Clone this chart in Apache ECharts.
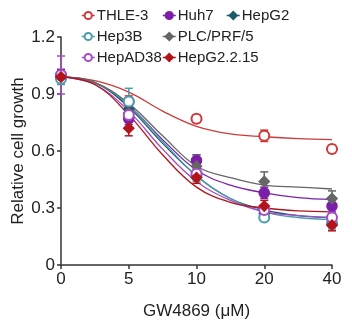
<!DOCTYPE html>
<html><head><meta charset="utf-8">
<script src="https://cdn.jsdelivr.net/npm/echarts@6/dist/echarts.min.js"></script>
<style>html,body{margin:0;padding:0;background:#fff}#c{width:352px;height:327px}</style>
</head><body><div id="c"></div>
<script>
const xLabels = ['0','5','10','20','40'];
const xPos = [0,1,2,3,4];
const fitX = [0,0.5,1,1.5,2,2.5,3,3.5,4];
const names = ['THLE-3','Huh7','HepG2','Hep3B','PLC/PRF/5','HepAD38','HepG2.2.15'];
const colors = ['#d0393a','#7b1fa8','#1d5b66','#4a9cae','#666666','#a64cc8','#b3141b'];
const symbols = ['emptyCircle','circle','diamond','emptyCircle','diamond','emptyCircle','diamond'];
const means = {
 'THLE-3':[0.99,0.86,0.77,0.68,0.61],
 'Huh7':[1.0,0.77,0.55,0.38,0.31],
 'HepG2':[0.99,0.82,0.49,0.27,0.22],
 'Hep3B':[0.98,0.86,0.47,0.25,0.22],
 'PLC/PRF/5':[0.99,0.80,0.52,0.44,0.35],
 'HepAD38':[1.0,0.79,0.48,0.29,0.25],
 'HepG2.2.15':[0.99,0.72,0.46,0.31,0.21]
};
const errs = {
 'THLE-3':[0.02,0.03,0.02,0.03,0.02],
 'Huh7':[0.03,0.03,0.03,0.03,0.03],
 'HepG2':[0.02,0.03,0.03,0.02,0.02],
 'Hep3B':[0.03,0.07,0.03,0.02,0.03],
 'PLC/PRF/5':[0.03,0.03,0.06,0.05,0.04],
 'HepAD38':[0.1,0.03,0.03,0.02,0.03],
 'HepG2.2.15':[0.02,0.04,0.03,0.03,0.03]
};
const fits = {
 'THLE-3':[0.99,0.97,0.91,0.81,0.73,0.69,0.675,0.665,0.66],
 'Huh7':[0.99,0.96,0.84,0.66,0.50,0.42,0.38,0.355,0.345],
 'HepG2':[0.99,0.96,0.83,0.64,0.47,0.35,0.29,0.26,0.25],
 'Hep3B':[0.99,0.96,0.84,0.65,0.47,0.35,0.28,0.25,0.24],
 'PLC/PRF/5':[0.99,0.96,0.85,0.68,0.52,0.46,0.42,0.41,0.40],
 'HepAD38':[0.99,0.95,0.81,0.61,0.44,0.34,0.28,0.26,0.25],
 'HepG2.2.15':[0.99,0.95,0.79,0.58,0.41,0.33,0.30,0.285,0.28]
};
const FONT = 'Liberation Sans, Arial, sans-serif';
const series = [];
names.forEach((n,i)=>{
  series.push({type:'line', name:n+'_fit', data: fitX.map((x,k)=>[x,fits[n][k]]), smooth:0.4, showSymbol:false,
    lineStyle:{color:colors[i],width:1.3}, silent:true, z:2, legendHoverLink:false});
  series.push({type:'custom', name:n+'_err', silent:true, z:3,
    data: xPos.map((x,k)=>[x, means[n][k]-errs[n][k], means[n][k]+errs[n][k]]),
    renderItem:(params,api)=>{
      const lo = api.coord([api.value(0), api.value(1)]);
      const hi = api.coord([api.value(0), api.value(2)]);
      const w = 4;
      const st = {stroke:colors[i], lineWidth:1.5};
      return {type:'group', children:[
        {type:'line', shape:{x1:lo[0],y1:lo[1],x2:hi[0],y2:hi[1]}, style:st},
        {type:'line', shape:{x1:lo[0]-w,y1:lo[1],x2:lo[0]+w,y2:lo[1]}, style:st},
        {type:'line', shape:{x1:hi[0]-w,y1:hi[1],x2:hi[0]+w,y2:hi[1]}, style:st}
      ]};
    }});
  series.push({type:'line', name:n, data: xPos.map((x,k)=>[x,means[n][k]]), symbol:symbols[i], symbolSize:10,
    lineStyle:{width:0, color:colors[i]}, itemStyle:{color:colors[i], borderColor:colors[i], borderWidth:1.6}, z:4});
});
const legendBase = {orient:'vertical', itemWidth:13, itemHeight:9, itemGap:6,
  lineStyle:{width:1.5},
  textStyle:{fontFamily:FONT, fontSize:15, color:'#222', padding:[0,0,0,-3]}, selectedMode:false, padding:0};
const chart = echarts.init(document.getElementById('c'), null, {renderer:'canvas'});
chart.setOption({
  animation:false,
  backgroundColor:'#fff',
  legend:[
    Object.assign({}, legendBase, {left:81, top:8, data:['THLE-3','Hep3B','HepAD38']}),
    Object.assign({}, legendBase, {left:162, top:8, data:['Huh7','PLC/PRF/5','HepG2.2.15']}),
    Object.assign({}, legendBase, {left:226, top:8, data:['HepG2']})
  ],
  grid:{left:61, right:20, top:37, bottom:62, outerBoundsMode:'none', containLabel:false},
  xAxis:{type:'value', min:0, max:4, interval:1,
    axisLine:{lineStyle:{color:'#333', width:1.5}}, axisTick:{inside:false, length:4, lineStyle:{color:'#333',width:1.5}},
    splitLine:{show:false},
    axisLabel:{formatter:(v)=>xLabels[Math.round(v)], fontFamily:FONT, fontSize:17, color:'#222', margin:6},
    name:'GW4869 (μM)', nameLocation:'middle', nameGap:38, nameMoveOverlap:false, nameTextStyle:{fontFamily:FONT, fontSize:17, color:'#222'}},
  yAxis:{type:'value', min:0, max:1.2, interval:0.3,
    axisLine:{show:true, lineStyle:{color:'#333', width:1.5}}, axisTick:{show:true, length:4, lineStyle:{color:'#333',width:1.5}},
    splitLine:{show:false},
    axisLabel:{formatter:(v)=>v===0?'0':String(Math.round(v*10)/10), fontFamily:FONT, fontSize:17, color:'#222', margin:6},
    name:'Relative cell growth', nameLocation:'middle', nameGap:34, nameMoveOverlap:false, nameTextStyle:{fontFamily:FONT, fontSize:17, color:'#222'}},
  series: series
});
</script></body></html>
